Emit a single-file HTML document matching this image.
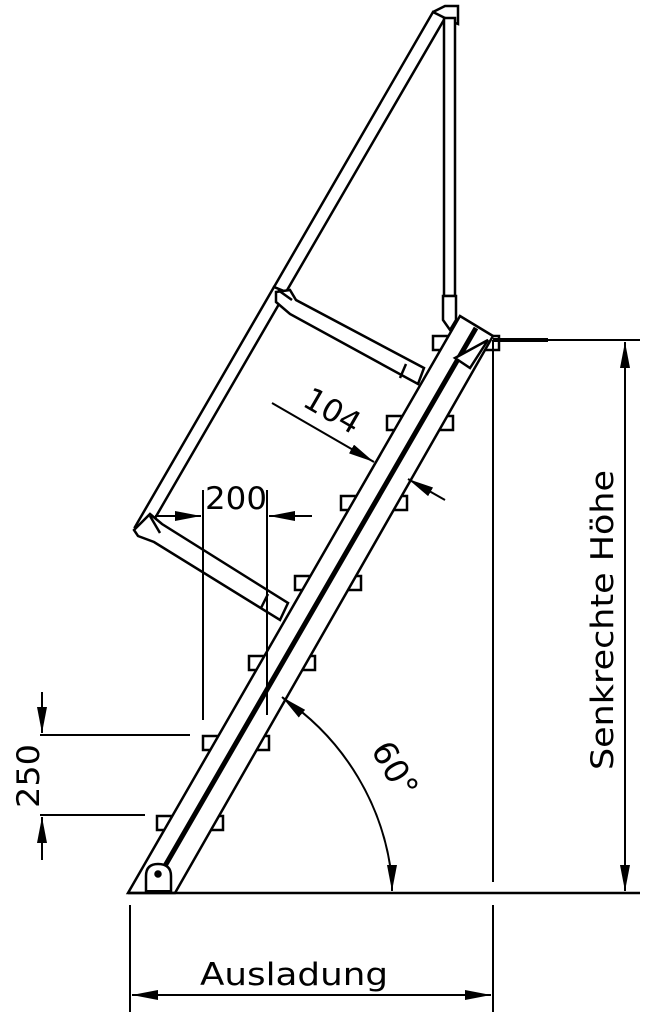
<!DOCTYPE html>
<html><head><meta charset="utf-8"><style>body{margin:0;background:#fff}svg{display:block}</style></head><body>
<svg width="662" height="1024" viewBox="0 0 662 1024" xmlns="http://www.w3.org/2000/svg" font-family="DejaVu Sans, Liberation Sans, sans-serif">
<defs>
<marker id="a" viewBox="0 0 26 10" refX="26" refY="5" markerWidth="26" markerHeight="10" markerUnits="userSpaceOnUse" orient="auto"><path d="M0,0 L26,5 L0,10 Z" fill="#000"/></marker>
</defs>
<g stroke="#000" fill="none" stroke-width="2.5">
<g fill="#fff">
<rect x="157" y="816" width="66" height="14"/>
<rect x="203" y="736" width="66" height="14"/>
<rect x="249" y="656" width="66" height="14"/>
<rect x="295" y="576" width="66" height="14"/>
<rect x="341" y="496" width="66" height="14"/>
<rect x="387" y="416" width="66" height="14"/>
<rect x="433" y="336" width="66" height="14"/>
</g>
<polygon points="128,893 460,316 493,336 175,893" fill="#fff"/>
<line x1="158" y1="878" x2="476" y2="328" stroke-width="5"/>
<path d="M455,358 L470,368 L488,340 Z" fill="#fff"/>
<path d="M146,893 V876 Q146,864 158,864 Q171,864 171,876 V893" fill="#fff"/>
<circle cx="158" cy="874" r="2.5" fill="#000"/>
<line x1="146" y1="892" x2="171" y2="892" stroke-width="4"/>
<polygon points="433,12 445,18 286,292 274,287" fill="#fff"/>
<polygon points="274,287 286,292 147,532 135,527" fill="#fff"/>
<path d="M433,12 L445,6 H458 V24 L447,20"/>
<rect x="444" y="18" width="11" height="278" fill="#fff"/>
<path d="M443,296 H456 V320 L450,330 L443,320 Z" fill="#fff"/>
<polygon points="276,292 290,290 296,300 424,368 418,384 290,314 276,302" fill="#fff"/>
<line x1="406" y1="364" x2="400" y2="378"/>
<polygon points="134,530 150,514 162,524 288,603 280,620 154,542 138,536" fill="#fff"/>
<line x1="268" y1="594" x2="261" y2="608"/>
<line x1="150" y1="516" x2="160" y2="533"/>
<line x1="278" y1="290" x2="292" y2="300"/>
<line x1="128" y1="893" x2="640" y2="893"/>
<line x1="493" y1="340" x2="493" y2="882" stroke-width="2"/>
<line x1="493" y1="340" x2="640" y2="340" stroke-width="2"/>
<line x1="493" y1="340" x2="548" y2="340" stroke-width="4"/>
<line x1="625" y1="380" x2="625" y2="342" marker-end="url(#a)" stroke-width="2"/>
<line x1="625" y1="360" x2="625" y2="891" marker-end="url(#a)" stroke-width="2"/>
<line x1="130" y1="905" x2="130" y2="1012" stroke-width="2"/>
<line x1="493" y1="905" x2="493" y2="1012" stroke-width="2"/>
<line x1="300" y1="995" x2="132" y2="995" marker-end="url(#a)" stroke-width="2"/>
<line x1="300" y1="995" x2="491" y2="995" marker-end="url(#a)" stroke-width="2"/>
<line x1="40" y1="735" x2="190" y2="735" stroke-width="2"/>
<line x1="40" y1="815" x2="145" y2="815" stroke-width="2"/>
<line x1="42" y1="692" x2="42" y2="733" marker-end="url(#a)" stroke-width="2"/>
<line x1="42" y1="860" x2="42" y2="817" marker-end="url(#a)" stroke-width="2"/>
<line x1="203" y1="490" x2="203" y2="720" stroke-width="2"/>
<line x1="267" y1="490" x2="267" y2="715" stroke-width="2"/>
<line x1="155" y1="516" x2="201" y2="516" marker-end="url(#a)" stroke-width="2"/>
<line x1="312" y1="516" x2="269" y2="516" marker-end="url(#a)" stroke-width="2"/>
<line x1="272" y1="403" x2="374" y2="462" marker-end="url(#a)" stroke-width="2"/>
<line x1="445" y1="500" x2="408" y2="479" marker-end="url(#a)" stroke-width="2"/>
<path d="M283,698 A250,250 0 0 1 392,880" stroke-width="2"/>
<line x1="300" y1="712" x2="282" y2="697" marker-end="url(#a)" stroke-width="2"/>
<line x1="392" y1="865" x2="392" y2="891" marker-end="url(#a)" stroke-width="2"/>
</g>
<g fill="#000" font-size="31">
<text x="294" y="985" text-anchor="middle" textLength="188" lengthAdjust="spacingAndGlyphs">Ausladung</text>
<text x="236" y="509" text-anchor="middle" textLength="62" lengthAdjust="spacingAndGlyphs">200</text>
<text transform="translate(327,420) rotate(30)" text-anchor="middle" textLength="60" lengthAdjust="spacingAndGlyphs">104</text>
<text transform="translate(39,776) rotate(-90)" text-anchor="middle" textLength="64" lengthAdjust="spacingAndGlyphs">250</text>
<text transform="translate(613,620) rotate(-90)" text-anchor="middle" textLength="300" lengthAdjust="spacingAndGlyphs">Senkrechte Höhe</text>
<text transform="translate(385,775) rotate(60)" text-anchor="middle" font-size="33">60°</text>
</g>
</svg>
</body></html>
